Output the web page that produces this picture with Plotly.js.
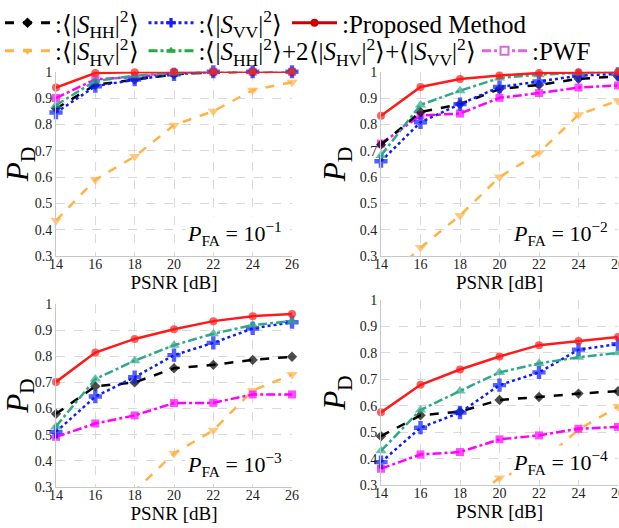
<!DOCTYPE html>
<html><head><meta charset="utf-8">
<script src="https://cdn.plot.ly/plotly-3.0.1.min.js"></script>
<style>html,body{margin:0;padding:0;background:#fff}#plot{width:619px;height:528px}</style>
</head><body><div id="plot"></div>
<script>
// ---- data ----
const snr = [14, 16, 18, 20, 22, 24, 26];
const panelLabels = ['10<sup>\u22121</sup>', '10<sup>\u22122</sup>', '10<sup>\u22123</sup>', '10<sup>\u22124</sup>'];

// PFA = 1e-1
const hh1 = [0.86, 0.95, 0.97, 0.99, 0.998, 1, 1];
const vv1 = [0.845, 0.945, 0.97, 0.99, 1, 1, 1];
const prop1 = [0.94, 0.995, 0.998, 1, 1, 1, 1];
const hv1 = [0.435, 0.59, 0.678, 0.797, 0.85, 0.93, 0.96];
const sum1 = [0.873, 0.965, 0.985, 0.995, 1, 1, 1];
const pwf1 = [0.90, 0.971, 0.98, 0.995, 1, 1, 1];
// PFA = 1e-2
const hh2 = [0.723, 0.847, 0.877, 0.934, 0.95, 0.973, 0.982];
const vv2 = [0.66, 0.808, 0.877, 0.942, 0.963, 0.985, 0.992];
const prop2 = [0.833, 0.942, 0.972, 0.986, 0.995, 0.998, 0.999];
const hv2 = [0.19, 0.332, 0.454, 0.60, 0.692, 0.837, 0.89];
const sum2 = [0.682, 0.874, 0.928, 0.976, 0.989, 0.996, 1];
const pwf2 = [0.727, 0.834, 0.841, 0.901, 0.919, 0.94, 0.948];
// PFA = 1e-3
const hh3 = [0.58, 0.685, 0.70, 0.754, 0.767, 0.786, 0.798];
const vv3 = [0.511, 0.646, 0.72, 0.804, 0.851, 0.906, 0.93];
const prop3 = [0.702, 0.814, 0.866, 0.903, 0.934, 0.953, 0.961];
const hv3 = [0.10, 0.18, 0.285, 0.429, 0.517, 0.669, 0.73];
const sum3 = [0.532, 0.713, 0.783, 0.842, 0.886, 0.919, 0.934];
const pwf3 = [0.492, 0.543, 0.574, 0.621, 0.622, 0.654, 0.654];
// PFA = 1e-4
const hh4 = [0.485, 0.564, 0.578, 0.622, 0.633, 0.646, 0.655];
const vv4 = [0.387, 0.517, 0.574, 0.678, 0.726, 0.812, 0.833];
const prop4 = [0.575, 0.679, 0.737, 0.786, 0.829, 0.845, 0.86];
const hv4 = [0.10, 0.15, 0.22, 0.327, 0.38, 0.51, 0.597];
const sum4 = [0.43, 0.584, 0.656, 0.726, 0.76, 0.783, 0.80];
const pwf4 = [0.362, 0.416, 0.425, 0.473, 0.488, 0.513, 0.52];

const legendNames = [
  ':\u27E8|<i>S</i><sub>HH</sub>|<sup>2</sup>\u27E9',
  ':\u27E8|<i>S</i><sub>VV</sub>|<sup>2</sup>\u27E9',
  ':Proposed Method',
  ':\u27E8|<i>S</i><sub>HV</sub>|<sup>2</sup>\u27E9',
  ':\u27E8|<i>S</i><sub>HH</sub>|<sup>2</sup>\u27E9+2\u27E8|<i>S</i><sub>HV</sub>|<sup>2</sup>\u27E9+\u27E8|<i>S</i><sub>VV</sub>|<sup>2</sup>\u27E9',
  ':PWF'
];
const legendGroup = ['legend', 'legend', 'legend', 'legend2', 'legend2', 'legend3'];

const panels = [
  {hh: hh1, vv: vv1, prop: prop1, hv: hv1, sum: sum1, pwf: pwf1},
  {hh: hh2, vv: vv2, prop: prop2, hv: hv2, sum: sum2, pwf: pwf2},
  {hh: hh3, vv: vv3, prop: prop3, hv: hv3, sum: sum3, pwf: pwf3},
  {hh: hh4, vv: vv4, prop: prop4, hv: hv4, sum: sum4, pwf: pwf4}
];

// ---- styles ----
const styles = {
  hh:   {color: '#000000', dash: 'dash',    symbol: 'diamond',       size: 8},
  vv:   {color: '#0a1cff', dash: 'dot',     symbol: 'cross',         size: 11},
  prop: {color: '#ff1a1a', dash: 'solid',   symbol: 'circle',        size: 8},
  hv:   {color: '#ffb347', dash: 'dash',    symbol: 'triangle-down', size: 10},
  sum:  {color: '#2fa88a', dash: 'dashdot', symbol: 'triangle-up',   size: 10},
  pwf:  {color: '#ff00ff', dash: 'dashdot', symbol: 'square',        size: 8}
};
const order = ['hh', 'vv', 'prop', 'hv', 'sum', 'pwf'];
const drawOrder = ['hv', 'pwf', 'hh', 'vv', 'sum', 'prop'];

const traces = [];
panels.forEach((p, i) => {
  const ax = i === 0 ? '' : String(i + 1);
  drawOrder.forEach(k => {
    const s = styles[k];
    const ys = p[k];
    traces.push({
      x: snr, y: ys, xaxis: 'x' + ax, yaxis: 'y' + ax,
      type: 'scatter', mode: 'lines+markers', showlegend: false,
      cliponaxis: false,
      line: {color: s.color, dash: s.dash, width: 2.5},
      marker: {color: s.color, symbol: s.symbol,
               size: ys.map(v => v >= 0.3 ? s.size : 0),
               line: {width: 0}}
    });
  });
});

// legend entries (legend-only traces)
const legColors = {hh: '#000000', vv: '#1a1aff', prop: '#cc0000', hv: '#ffb347', sum: '#22aa44', pwf: '#dd66dd'};
order.forEach((k, j) => {
  const s = styles[k];
  traces.push({
    x: [null], y: [null], xaxis: 'x', yaxis: 'y', type: 'scatter', mode: 'lines+markers',
    name: legendNames[j], showlegend: true, legend: legendGroup[j],
    line: {color: legColors[k], dash: s.dash, width: 3},
    marker: {color: k === 'pwf' ? '#ffffff' : legColors[k], symbol: s.symbol, size: 8,
             line: {color: legColors[k], width: k === 'pwf' ? 2 : 0}}
  });
});

const W = 619, H = 528;
const xd = [[56 / W, 292 / W], [381 / W, 618 / W], [56 / W, 292 / W], [381 / W, 618 / W]];
const yd = [[1 - 255 / H, 1 - 70 / H], [1 - 255 / H, 1 - 70 / H], [1 - 487 / H, 1 - 303 / H], [1 - 485 / H, 1 - 299 / H]];

const serif = 'Liberation Serif';
function legendBox(x, y) {
  return {orientation: 'h', x: x, y: y, xanchor: 'left', yanchor: 'top',
          font: {family: serif, size: 25, color: '#000'}, bgcolor: 'rgba(0,0,0,0)',
          itemwidth: 45, tracegroupgap: 0, traceorder: 'normal'};
}
const layout = {
  width: W, height: H,
  margin: {l: 0, r: 0, t: 0, b: 0},
  paper_bgcolor: '#ffffff', plot_bgcolor: '#ffffff',
  font: {family: serif, color: '#000'},
  showlegend: true,
  legend: legendBox(0, 1 + 2 / H),
  legend2: legendBox(0, 1 - 26 / H),
  legend3: legendBox(477 / W, 1 - 26 / H),
  annotations: []
};

panels.forEach((p, i) => {
  const ax = i === 0 ? '' : String(i + 1);
  layout['xaxis' + ax] = {
    domain: xd[i], anchor: 'y' + ax, range: [14, 26], dtick: 2, tick0: 14,
    showgrid: true, gridcolor: '#d9d9d9', griddash: 'dash', gridwidth: 1,
    showline: true, linecolor: '#c8c8c8', linewidth: 1, zeroline: false,
    ticks: '', ticklabeloverflow: 'allow', ticklabelstandoff: -5,
    tickfont: {family: serif, size: 14, color: '#222'},
    title: {text: 'PSNR [dB]', font: {family: serif, size: 19, color: '#000'}, standoff: 1}
  };
  layout['yaxis' + ax] = {
    domain: yd[i], anchor: 'x' + ax, range: [0.3, 1], dtick: 0.1, tick0: 0.3,
    showgrid: true, gridcolor: '#d9d9d9', griddash: 'dash', gridwidth: 1,
    showline: true, linecolor: '#c8c8c8', linewidth: 1, zeroline: false,
    ticks: '', ticklabeloverflow: 'allow',
    tickfont: {family: serif, size: 14, color: '#222'},
    title: {text: '<i>P</i><sub>D</sub>', font: {family: serif, size: 31, color: '#000'}, standoff: 4}
  };
  layout.annotations.push({
    xref: 'x' + ax + ' domain', yref: 'y' + ax + ' domain', x: 0.965, y: 0.03,
    xanchor: 'right', yanchor: 'bottom', showarrow: false,
    text: '<i>P</i><sub>FA</sub> = ' + panelLabels[i],
    font: {family: serif, size: 22, color: '#000'}, bgcolor: '#ffffff', borderpad: 1
  });
});

Plotly.newPlot('plot', traces, layout, {displayModeBar: false, staticPlot: true});
</script></body></html>
